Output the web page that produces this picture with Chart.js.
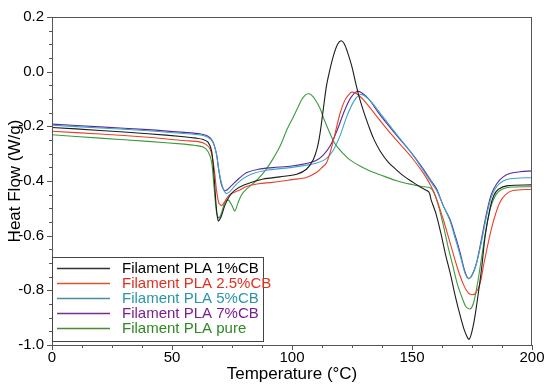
<!DOCTYPE html>
<html>
<head>
<meta charset="utf-8">
<script src="https://cdn.jsdelivr.net/npm/chart.js@4.4.0/dist/chart.umd.min.js"></script>
<style>
  html, body { margin: 0; padding: 0; background: #fff; }
  #chartDisplay { width: 550px; height: 388px; }
</style>
</head>
<body>
<div id="chartDisplay"><canvas id="myChart" width="550" height="388"></canvas></div>
<script>
// series names (legend order)
const seriesNames = ["Filament PLA 1%CB", "Filament PLA 2.5%CB", "Filament PLA 5%CB", "Filament PLA 7%CB", "Filament PLA pure"];

// temperature (°C) / heat flow (W/g)
const tempCB1 = [0, 20, 40, 55, 60, 63, 65, 66.5, 67.5, 68.5, 69.3, 70.5, 72, 74, 76, 80, 88, 95, 102, 106, 108.9, 110.5, 111.7, 113, 114.4, 116, 117.5, 119, 120.4, 121.7, 123, 124.9, 126.5, 128, 130, 132, 134, 136.7, 140, 143.6, 147, 150.5, 154, 157, 158, 160, 162, 164, 166, 168, 170, 172, 173.8, 175.5, 177, 179, 180.5, 182.5, 184, 186, 190, 200];
const hfCB1 = [-0.204, -0.215, -0.227, -0.238, -0.243, -0.248, -0.258, -0.29, -0.38, -0.5, -0.546, -0.53, -0.49, -0.455, -0.435, -0.415, -0.393, -0.385, -0.375, -0.357, -0.321, -0.28, -0.225, -0.14, -0.05, 0.015, 0.065, 0.1, 0.113, 0.103, 0.075, 0.02, -0.04, -0.093, -0.15, -0.2, -0.245, -0.29, -0.33, -0.36, -0.385, -0.405, -0.425, -0.44, -0.47, -0.52, -0.59, -0.67, -0.74, -0.82, -0.89, -0.95, -0.979, -0.93, -0.85, -0.72, -0.6, -0.5, -0.455, -0.43, -0.417, -0.414];

const tempCB25 = [0, 20, 40, 55, 61, 64, 66, 67.5, 68.5, 69.5, 70.7, 72, 74, 78, 81, 86, 92, 100, 106, 110, 112, 114.4, 117, 120, 122, 124, 125, 126.5, 128, 130, 135, 140, 145, 150, 155, 158, 160, 163, 166, 169, 171.5, 173.5, 175, 176.5, 178.3, 180, 182.5, 184.5, 186.7, 189, 192, 200];
const hfCB25 = [-0.218, -0.228, -0.24, -0.252, -0.256, -0.265, -0.285, -0.35, -0.43, -0.48, -0.49, -0.475, -0.45, -0.434, -0.42, -0.41, -0.405, -0.395, -0.387, -0.37, -0.355, -0.333, -0.26, -0.153, -0.105, -0.08, -0.075, -0.078, -0.088, -0.105, -0.16, -0.215, -0.265, -0.315, -0.375, -0.42, -0.46, -0.54, -0.63, -0.72, -0.78, -0.81, -0.816, -0.81, -0.777, -0.7, -0.597, -0.53, -0.477, -0.45, -0.435, -0.43];

const tempCB5 = [0, 20, 40, 55, 62, 65, 67, 68.5, 69.5, 71, 72.5, 74, 76, 79, 83, 90, 100, 106, 110, 114, 117, 120, 123, 126, 128.3, 130, 133, 137, 141, 145, 150, 155, 158, 160.3, 163, 165.8, 168, 170, 172, 173.5, 175, 176.9, 179, 181, 183, 185.3, 188, 191, 200];
const hfCB5 = [-0.196, -0.206, -0.216, -0.226, -0.232, -0.24, -0.258, -0.3, -0.36, -0.42, -0.445, -0.44, -0.42, -0.395, -0.375, -0.36, -0.35, -0.342, -0.335, -0.32, -0.29, -0.235, -0.16, -0.105, -0.084, -0.087, -0.11, -0.155, -0.2, -0.245, -0.3, -0.365, -0.405, -0.435, -0.49, -0.545, -0.61, -0.67, -0.735, -0.757, -0.745, -0.7, -0.62, -0.53, -0.46, -0.42, -0.4, -0.392, -0.387];

const tempCB7 = [0, 20, 40, 55, 62, 65, 67, 68.5, 69.5, 70.5, 71.8, 73, 75, 78, 81, 86, 92, 100, 106, 110, 113, 116, 119, 122, 124.5, 127, 129, 132, 136, 140, 145, 150, 155, 158, 160.3, 163, 165.8, 168, 170, 172, 173.5, 175, 176.9, 179, 181, 183, 185.3, 188, 191, 195, 200];
const hfCB7 = [-0.192, -0.202, -0.212, -0.222, -0.228, -0.236, -0.255, -0.3, -0.36, -0.41, -0.435, -0.432, -0.415, -0.39, -0.37, -0.357, -0.351, -0.345, -0.336, -0.325, -0.305, -0.27, -0.21, -0.14, -0.095, -0.073, -0.077, -0.1, -0.15, -0.195, -0.248, -0.3, -0.36, -0.4, -0.43, -0.49, -0.54, -0.6, -0.66, -0.73, -0.757, -0.745, -0.7, -0.61, -0.52, -0.45, -0.41, -0.385, -0.372, -0.366, -0.363];

const tempPure = [0, 20, 40, 55, 60, 63, 65, 66.5, 67.5, 68.5, 69.5, 70.5, 72, 73.5, 75, 76.2, 77.5, 79, 81, 85, 89, 92, 95, 98, 100.6, 102.5, 104, 105.5, 106.8, 108, 109.5, 111.7, 113.5, 115.8, 118, 121.4, 124, 128.3, 132.5, 136.7, 143.6, 150, 154, 157.5, 159, 161, 163, 165, 167, 169, 171, 172.5, 174.2, 175.5, 177, 179, 181, 183, 185, 187.5, 192, 200];
const hfPure = [-0.231, -0.243, -0.255, -0.265, -0.27, -0.276, -0.292, -0.33, -0.42, -0.51, -0.535, -0.52, -0.48, -0.47, -0.49, -0.51, -0.48, -0.45, -0.43, -0.4, -0.36, -0.32, -0.273, -0.21, -0.165, -0.13, -0.103, -0.086, -0.081, -0.085, -0.1, -0.135, -0.178, -0.225, -0.265, -0.3, -0.322, -0.345, -0.363, -0.377, -0.399, -0.413, -0.42, -0.425, -0.44, -0.49, -0.56, -0.64, -0.71, -0.78, -0.83, -0.86, -0.868, -0.85, -0.79, -0.68, -0.57, -0.49, -0.45, -0.43, -0.422, -0.421];

const xTicks = [0, 50, 100, 150, 200];
const yTicks = [0.2, 0.0, -0.2, -0.4, -0.6, -0.8, -1.0];

const lineColors = ["#1c1c1c", "#e8402a", "#3ea2c8", "#5a2a9a", "#3c9a3c"];
const textColors = ["#000000", "#e0301e", "#2a95a8", "#7a1e90", "#2e8a22"];
const legendLineColors = ["#333333", "#d9542a", "#4a8fa0", "#7b2d8e", "#4a8a30"];

function toPoints(xs, ys) {
  let pts = [];
  for (let i = 0; i < xs.length; i++) {
    pts.push({ x: xs[i], y: ys[i] });
  }
  return pts;
}

const seriesData = [
  toPoints(tempCB1, hfCB1),
  toPoints(tempCB25, hfCB25),
  toPoints(tempCB5, hfCB5),
  toPoints(tempCB7, hfCB7),
  toPoints(tempPure, hfPure)
];

// frame, minor ticks and legend box
const extrasPlugin = {
  id: 'extras',
  afterDatasetsDraw(chart) {
    const ctx = chart.ctx;
    const area = chart.chartArea;
    const xs = chart.scales.x;
    const ys = chart.scales.y;
    ctx.save();
    ctx.strokeStyle = '#555';
    ctx.lineWidth = 1;
    ctx.strokeRect(area.left + 0.5, area.top + 0.5, area.right - area.left - 1, area.bottom - area.top);

    // x ticks
    ctx.beginPath();
    for (let v = 0; v <= 200.001; v += 12.5) {
      let px = Math.round(xs.getPixelForValue(v)) + 0.5;
      let len = (v % 50 === 0) ? 5 : 3;
      ctx.moveTo(px, area.bottom);
      ctx.lineTo(px, area.bottom + len);
    }
    // y ticks
    for (let i = 0; i <= 24; i++) {
      let v = 0.2 - i * 0.05;
      let py = Math.round(ys.getPixelForValue(v)) + 0.5;
      let len = (i % 4 === 0) ? 5 : 3;
      ctx.moveTo(area.left, py);
      ctx.lineTo(area.left - len, py);
    }
    ctx.stroke();

    // legend
    const bx = area.left, by = 257, bw = 211, bh = 84;
    ctx.fillStyle = '#fff';
    ctx.fillRect(bx, by, bw, bh);
    ctx.strokeStyle = '#444';
    ctx.strokeRect(bx + 0.5, by + 0.5, bw, bh);
    ctx.font = '15px "Liberation Sans", Arial, sans-serif';
    ctx.textBaseline = 'middle';
    chart.data.datasets.forEach((ds, i) => {
      let ry = by + 11.5 + i * 15;
      ctx.strokeStyle = legendLineColors[i];
      ctx.lineWidth = 1.5;
      ctx.beginPath();
      ctx.moveTo(bx + 5, ry);
      ctx.lineTo(bx + 58, ry);
      ctx.stroke();
      ctx.fillStyle = textColors[i];
      ctx.fillText(ds.label, bx + 70, ry + 0.5);
    });
    ctx.restore();
  }
};

function heatChart() {
  const data = {
    datasets: seriesNames.map((name, i) => ({
      label: name,
      data: seriesData[i],
      borderColor: lineColors[i],
      backgroundColor: lineColors[i],
      borderWidth: 1.1,
      showLine: true,
      pointRadius: 0,
      tension: 0.3
    }))
  };

  const config = {
    type: 'scatter',
    data,
    options: {
      responsive: false,
      animation: false,
      layout: { padding: { top: 12, right: 18, left: 0, bottom: 0 } },
      plugins: { legend: { display: false }, tooltip: { enabled: false } },
      scales: {
        x: {
          type: 'linear',
          min: 0,
          max: 200,
          afterFit(scale) { scale.height = 43; },
          afterBuildTicks(scale) { scale.ticks = xTicks.map(v => ({ value: v })); },
          grid: { display: false, drawTicks: false },
          border: { display: false },
          ticks: {
            padding: 4,
            color: '#000',
            maxRotation: 0,
            font: { family: '"Liberation Sans", Arial, sans-serif', size: 15 },
            callback: (v) => String(v)
          },
          title: {
            display: true,
            text: 'Temperature (°C)',
            color: '#000',
            padding: { top: 0, bottom: 3 },
            font: { family: '"Liberation Sans", Arial, sans-serif', size: 17 }
          }
        },
        y: {
          type: 'linear',
          min: -1.0,
          max: 0.2,
          afterFit(scale) { scale.width = 52; },
          afterBuildTicks(scale) { scale.ticks = yTicks.map(v => ({ value: v })); },
          grid: { display: false, drawTicks: false },
          border: { display: false },
          ticks: {
            padding: 8,
            color: '#000',
            font: { family: '"Liberation Sans", Arial, sans-serif', size: 15 },
            callback: (v) => Number(v).toFixed(1)
          },
          title: {
            display: true,
            text: 'Heat Flow (W/g)',
            color: '#000',
            padding: { top: 5, bottom: 0 },
            font: { family: '"Liberation Sans", Arial, sans-serif', size: 17 }
          }
        }
      }
    },
    plugins: [extrasPlugin]
  };

  var myChart = new Chart(document.getElementById('myChart'), config);
}
heatChart();
</script>
</body>
</html>
